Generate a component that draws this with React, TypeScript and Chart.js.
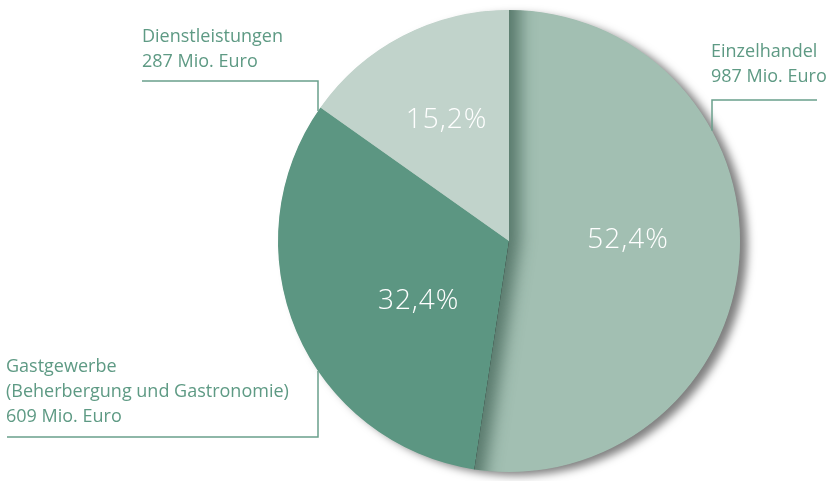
import React, { useEffect, useRef } from 'react';
import { Chart, registerables } from 'chart.js';

Chart.register(...registerables);

// ---- data ----
const categories = ['Einzelhandel', 'Gastgewerbe', 'Dienstleistungen'];
const subtitles = [[], ['(Beherbergung und Gastronomie)'], []];
const amounts = [987, 609, 287]; // Mio. Euro
const shares = [52.4, 32.4, 15.2]; // percent
const colors = ['#a2bfb2', '#5c9682', '#c1d3cb'];

// ---- layout / style config ----
const TEXT_COLOR = '#5e9a84';
const LINE_COLOR = '#6aa08c';
const LABEL_FONT = '18px "Open Sans", sans-serif';
const PCT_FONT = '300 28px "Open Sans", sans-serif';
const LINE_HEIGHT = 25;

// outer label blocks: text anchor and leader line (horizontal rule + stem to the pie edge)
const labelLayout = [
  { textX: 711, firstBaseline: 57, ruleY: 100, ruleX0: 712, ruleX1: 817, stemX: 712, stemUp: false },
  { textX: 6, firstBaseline: 372, ruleY: 437, ruleX0: 7, ruleX1: 318, stemX: 318, stemUp: true },
  { textX: 142, firstBaseline: 42, ruleY: 81, ruleX0: 142, ruleX1: 318, stemX: 318, stemUp: false },
];
// percentage label placement in polar terms (degrees from 3 o'clock, fraction of radius)
const pctPlacement = [
  { angle: -0.5, r: 0.515 },
  { angle: 146.3, r: 0.47 },
  { angle: -117.3, r: 0.59 },
];

const fmtPct = (v: number) => v.toFixed(1).replace('.', ',') + '%';

const pieDecor = {
  id: 'pieDecor',
  beforeDatasetsDraw(chart: any) {
    const meta = chart.getDatasetMeta(0);
    const a = meta.data[0];
    if (!a) return;
    const { x, y, outerRadius } = a.getProps(['x', 'y', 'outerRadius'], true);
    const ctx = chart.ctx;
    ctx.save();
    ctx.shadowColor = 'rgba(0,0,0,0.5)';
    ctx.shadowBlur = 8;
    ctx.shadowOffsetX = 8;
    ctx.shadowOffsetY = 4;
    ctx.fillStyle = colors[0];
    ctx.beginPath();
    ctx.arc(x, y, outerRadius - 0.5, 0, Math.PI * 2);
    ctx.fill();
    ctx.restore();
  },
  afterDatasetsDraw(chart: any) {
    const meta = chart.getDatasetMeta(0);
    const a = meta.data[0];
    if (!a) return;
    const { x, y, startAngle, endAngle, outerRadius } = a.getProps(
      ['x', 'y', 'startAngle', 'endAngle', 'outerRadius'],
      true
    );
    const ctx = chart.ctx;
    // inner shadow along the straight edges of the first slice
    ctx.save();
    ctx.beginPath();
    ctx.moveTo(x, y);
    ctx.arc(x, y, outerRadius, startAngle, endAngle);
    ctx.closePath();
    ctx.clip();
    ctx.beginPath();
    ctx.moveTo(x, y);
    ctx.arc(x, y, 2000, endAngle, startAngle + Math.PI * 2);
    ctx.closePath();
    ctx.shadowColor = 'rgba(40,75,62,0.6)';
    ctx.shadowBlur = 16;
    ctx.shadowOffsetX = 11;
    ctx.shadowOffsetY = 0;
    ctx.fillStyle = '#000';
    ctx.fill();
    ctx.restore();
  },
  afterDraw(chart: any) {
    const meta = chart.getDatasetMeta(0);
    const ctx = chart.ctx;
    const first = meta.data[0];
    if (!first) return;
    const { x: cx, y: cy, outerRadius: R } = first.getProps(['x', 'y', 'outerRadius'], true);

    // percentage labels
    ctx.save();
    ctx.font = PCT_FONT;
    ctx.fillStyle = '#ffffff';
    ctx.textAlign = 'center';
    ctx.textBaseline = 'middle';
    try { (ctx as any).letterSpacing = '1px'; } catch (e) {}
    shares.forEach((s, i) => {
      const p = pctPlacement[i];
      const ang = (p.angle * Math.PI) / 180;
      ctx.fillText(fmtPct(s), cx + Math.cos(ang) * R * p.r, cy + Math.sin(ang) * R * p.r);
    });
    ctx.restore();

    // outer labels + leader lines
    ctx.save();
    ctx.font = LABEL_FONT;
    ctx.fillStyle = TEXT_COLOR;
    ctx.textAlign = 'left';
    ctx.textBaseline = 'alphabetic';
    ctx.strokeStyle = LINE_COLOR;
    ctx.lineWidth = 1.5;
    categories.forEach((cat, i) => {
      const L = labelLayout[i];
      const lines = [cat, ...subtitles[i], `${amounts[i]} Mio. Euro`];
      lines.forEach((t, k) => ctx.fillText(t, L.textX, L.firstBaseline + k * LINE_HEIGHT));
      const dx = L.stemX - cx;
      const dy = Math.sqrt(Math.max(0, R * R - dx * dx));
      const stemEnd = L.stemUp ? cy + dy : cy - dy;
      ctx.beginPath();
      if (L.stemX === L.ruleX0) {
        ctx.moveTo(L.ruleX1, L.ruleY);
        ctx.lineTo(L.ruleX0, L.ruleY);
      } else {
        ctx.moveTo(L.ruleX0, L.ruleY);
        ctx.lineTo(L.ruleX1, L.ruleY);
      }
      ctx.lineTo(L.stemX, stemEnd);
      ctx.stroke();
    });
    ctx.restore();
  },
};

export default function App() {
  const ref = useRef<HTMLCanvasElement | null>(null);
  useEffect(() => {
    if (!ref.current) return;
    const chart = new Chart(ref.current, {
      type: 'pie',
      data: {
        labels: categories,
        datasets: [
          {
            data: shares,
            backgroundColor: colors,
            borderWidth: 0,
            hoverOffset: 0,
          },
        ],
      },
      options: {
        responsive: false,
        animation: false,
        events: [],
        layout: { padding: { left: 278, right: 90, top: 10, bottom: 9 } },
        plugins: { legend: { display: false }, tooltip: { enabled: false } },
      },
      plugins: [pieDecor],
    });
    return () => chart.destroy();
  }, []);
  return (
    <div style={{ position: 'absolute', left: 0, top: 0, width: 830, height: 481, background: '#fff' }}>
      <canvas ref={ref} width={830} height={481} style={{ display: 'block' }} />
    </div>
  );
}
